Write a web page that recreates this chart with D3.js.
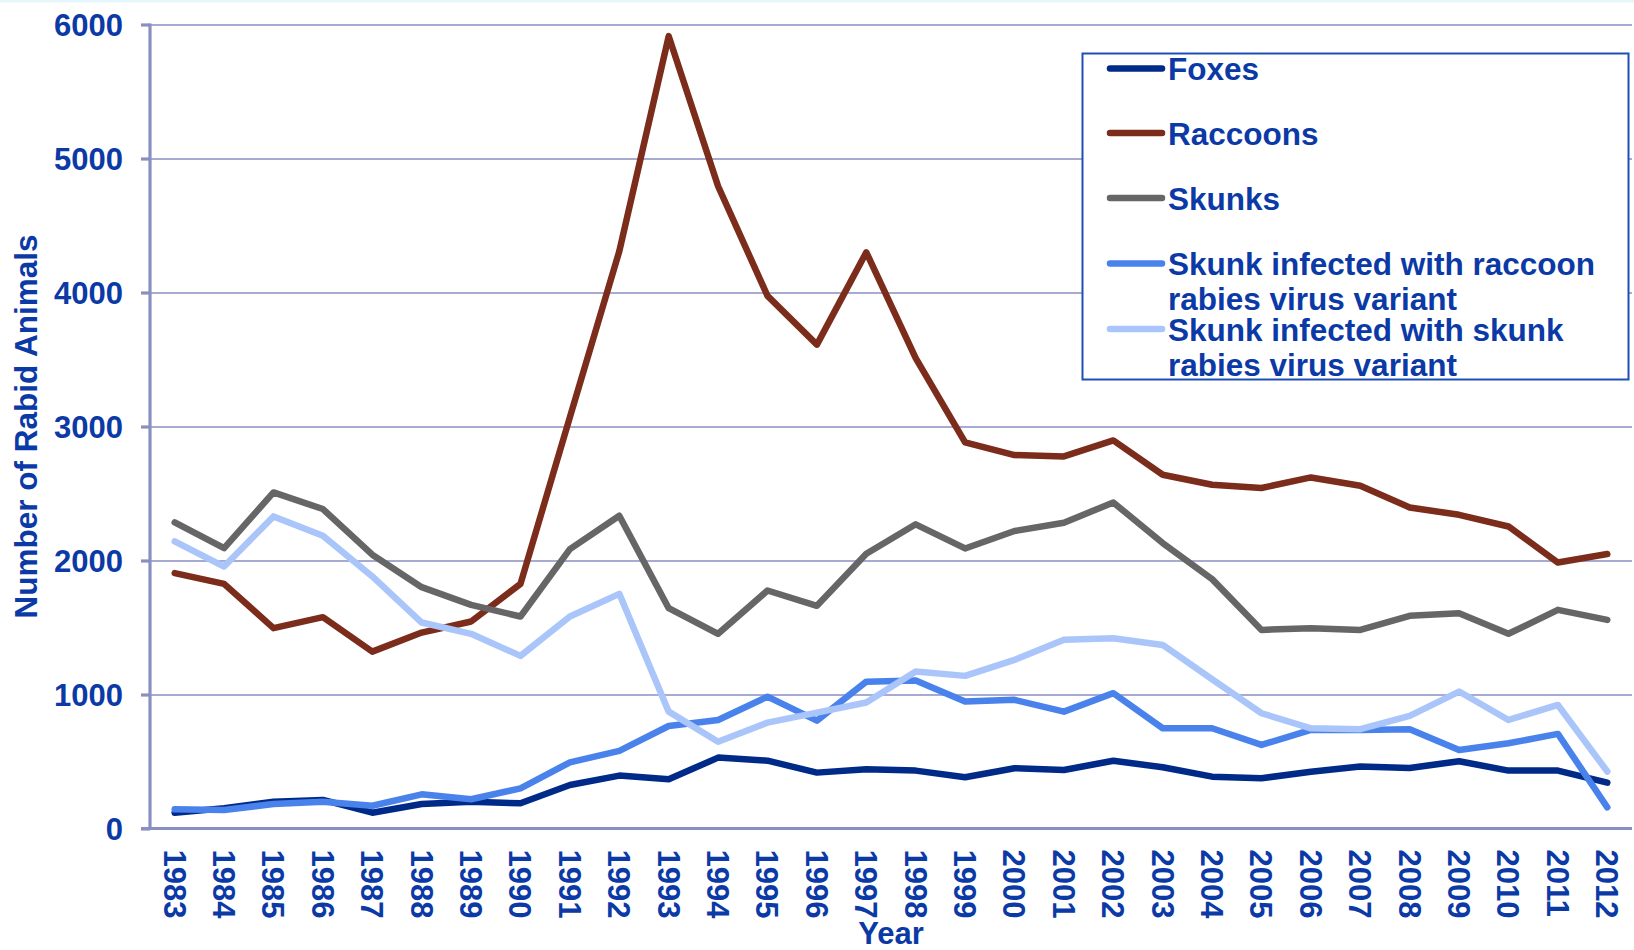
<!DOCTYPE html>
<html>
<head>
<meta charset="utf-8">
<script src="https://cdn.jsdelivr.net/npm/d3@7"></script>
<style>
  html, body { margin: 0; padding: 0; background: #ffffff; }
  svg { display: block; }
  text { font-family: "Liberation Sans", Arial, sans-serif; font-weight: bold; fill: #0b3aa6; }
</style>
</head>
<body>
<svg id="chart" width="1634" height="950"></svg>
<script>
// ---- data ----
const years = ["1983","1984","1985","1986","1987","1988","1989","1990","1991","1992","1993","1994","1995","1996","1997","1998","1999","2000","2001","2002","2003","2004","2005","2006","2007","2008","2009","2010","2011","2012"];
const yTicks = [0, 1000, 2000, 3000, 4000, 5000, 6000];
const seriesNames = ["Foxes", "Raccoons", "Skunks", "Skunk infected with raccoon rabies virus variant", "Skunk infected with skunk rabies virus variant"];
const foxes = [118,151,200,213,118,183,200,188,325,395,367,529,506,417,442,432,382,450,437,506,457,387,375,424,462,452,502,432,432,342];
const raccoons = [1906,1826,1495,1577,1320,1462,1545,1826,3070,4308,5913,4793,3975,3611,4300,3511,2881,2787,2777,2896,2640,2565,2541,2620,2558,2396,2341,2254,1985,2048];
const skunks = [2284,2092,2508,2384,2043,1801,1669,1582,2085,2334,1644,1453,1776,1662,2050,2270,2090,2220,2282,2433,2130,1861,1482,1495,1482,1587,1607,1453,1632,1557];
const skunkRaccoonVariant = [143,138,183,200,170,255,218,300,494,579,765,810,984,805,1096,1104,947,960,872,1010,748,748,624,736,736,741,586,636,706,158];
const skunkSkunkVariant = [2142,1955,2329,2184,1881,1537,1453,1288,1582,1751,872,648,790,865,940,1171,1139,1258,1408,1420,1370,1114,860,748,741,840,1022,810,922,425];

const seriesValues = [foxes, raccoons, skunks, skunkRaccoonVariant, skunkSkunkVariant];
const colors = ["#002a88", "#7b2c1a", "#666666", "#4a82ec", "#a9c5fa"];
const legendLines = [["Foxes"], ["Raccoons"], ["Skunks"], ["Skunk infected with raccoon", "rabies virus variant"], ["Skunk infected with skunk", "rabies virus variant"]];

// ---- layout ----
const svg = d3.select("#chart");
const plotLeft = 150, plotRight = 1632, plotTop = 24.5, plotBottom = 828.5;
const gridColor = "#8a8fc2";

const x = d3.scaleBand().domain(years).range([plotLeft, plotRight]).padding(0);
const y = d3.scaleLinear().domain([0, 6000]).range([plotBottom, plotTop]);

// light top border
svg.append("rect").attr("x", 0).attr("y", 0).attr("width", 1634).attr("height", 2.5).attr("fill", "#e4f5fc");

// gridlines
const grid = svg.append("g").attr("transform", `translate(${plotLeft},0)`)
  .call(d3.axisLeft(y).tickValues(yTicks.filter(d => d > 0)).tickSize(-(plotRight - plotLeft)).tickFormat(""));
grid.select(".domain").remove();
grid.selectAll("line").attr("stroke", gridColor).attr("stroke-width", 1.6);

// y axis with tick marks and labels
const yAxis = svg.append("g").attr("transform", `translate(${plotLeft},0)`)
  .call(d3.axisLeft(y).tickValues(yTicks).tickSize(9).tickPadding(18).tickFormat(d3.format("d")));
yAxis.select(".domain").attr("stroke", gridColor).attr("stroke-width", 3.2)
  .attr("d", `M0,${plotBottom}V${plotTop - 1}`);
yAxis.selectAll(".tick line").attr("stroke", gridColor).attr("stroke-width", 3.2);
yAxis.selectAll(".tick text").attr("fill", "#0b3aa6").style("font-size", "31px")
  .style("font-family", '"Liberation Sans", Arial, sans-serif').style("font-weight", "bold").attr("dy", "0.36em");

// x axis baseline & labels
const xAxis = svg.append("g").attr("transform", `translate(0,${plotBottom})`)
  .call(d3.axisBottom(x).tickSize(0).tickPadding(0));
xAxis.select(".domain").attr("stroke", gridColor).attr("stroke-width", 3.2)
  .attr("d", `M${plotLeft - 9},0H${plotRight}`);
xAxis.selectAll(".tick text")
  .attr("fill", "#0b3aa6").style("font-size", "31px")
  .style("font-family", '"Liberation Sans", Arial, sans-serif').style("font-weight", "bold")
  .attr("text-anchor", "start")
  .attr("y", 0).attr("dy", "0.36em")
  .attr("transform", "translate(0,21) rotate(90)");

// lines
const line = d3.line().x((d, i) => x(years[i]) + x.bandwidth() / 2).y(d => y(d));
seriesValues.forEach((vals, i) => {
  svg.append("path").datum(vals)
    .attr("fill", "none").attr("stroke", colors[i]).attr("stroke-width", 6.5)
    .attr("stroke-linejoin", "round").attr("stroke-linecap", "round")
    .attr("d", line);
});

// axis titles
svg.append("text").attr("transform", "translate(37,426.5) rotate(-90)")
  .attr("text-anchor", "middle").style("font-size", "31.5px").text("Number of Rabid Animals");
svg.append("text").attr("x", (plotLeft + plotRight) / 2).attr("y", 944)
  .attr("text-anchor", "middle").style("font-size", "31px").text("Year");

// legend
const lg = svg.append("g");
lg.append("rect").attr("x", 1082.5).attr("y", 53.5).attr("width", 546).attr("height", 326)
  .attr("fill", "#ffffff").attr("stroke", "#1f4fb4").attr("stroke-width", 2);
const legendY = [68.5, 133, 198, 263.5, 329];
legendLines.forEach((lines, i) => {
  lg.append("line").attr("x1", 1110).attr("x2", 1162).attr("y1", legendY[i]).attr("y2", legendY[i])
    .attr("stroke", colors[i]).attr("stroke-width", 6.5).attr("stroke-linecap", "round");
  const t = lg.append("text").attr("x", 1168).attr("y", legendY[i] + 11.5).style("font-size", "31.5px");
  lines.forEach((s, j) => {
    t.append("tspan").attr("x", 1168).attr("dy", j === 0 ? 0 : 35).text(s);
  });
});
</script>
</body>
</html>
